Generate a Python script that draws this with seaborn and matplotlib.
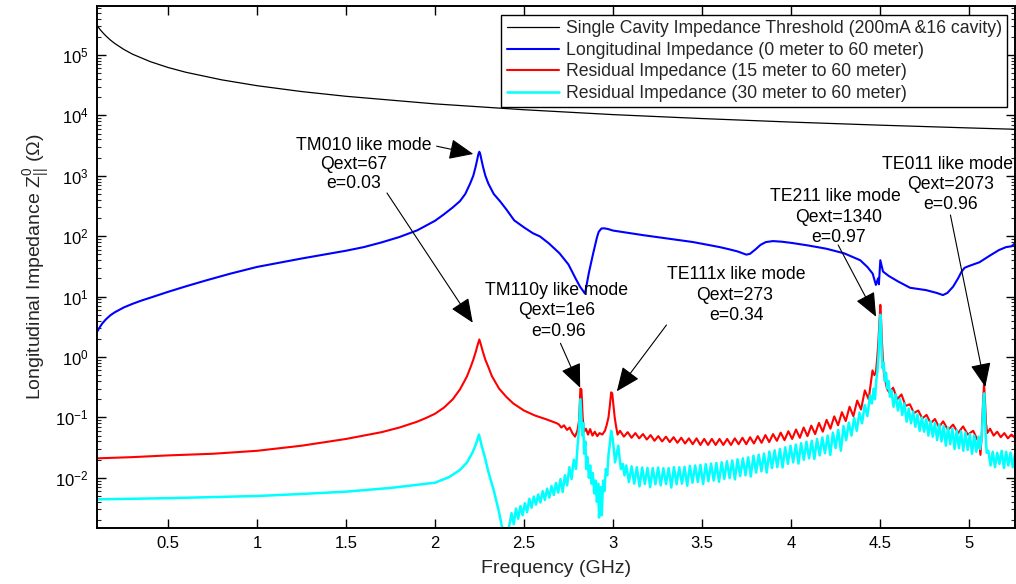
import numpy as np
import matplotlib
matplotlib.use("Agg")
import matplotlib.pyplot as plt
import seaborn as sns

# ---------------- data: frequency in GHz, impedance in Ohm ----------------
# single cavity impedance threshold
thr_freq = [0.1, 0.11, 0.12, 0.135, 0.15, 0.175, 0.2, 0.25, 0.3, 0.4, 0.5, 0.6, 0.8,
            1.0, 1.25, 1.5, 2.0, 2.5, 3.0, 3.5, 4.0, 4.5, 5.0, 5.26]
thr_imp = [310000, 282000, 258000, 230000, 207000, 177000, 155000, 124000, 103000,
           77500, 62000, 51700, 38800, 31000, 24800, 20700, 15500, 12400, 10300,
           8860, 7750, 6890, 6200, 5890]

# longitudinal impedance, 0 m to 60 m
long_freq = [0.1, 0.115, 0.13, 0.15, 0.175, 0.2, 0.25, 0.3, 0.35, 0.4, 0.5, 0.6,
             0.715, 0.85, 1.0, 1.25, 1.5, 1.6, 1.7, 1.8, 1.9, 2.0, 2.05, 2.1,
             2.14, 2.17, 2.197, 2.215, 2.228, 2.238, 2.244, 2.249, 2.254, 2.26,
             2.27, 2.283, 2.30, 2.33, 2.365, 2.40, 2.445, 2.5, 2.55, 2.59, 2.64,
             2.70, 2.75, 2.79, 2.815, 2.843, 2.865, 2.889, 2.91, 2.92, 2.935, 2.95,
             2.97, 3.0, 3.17, 3.45, 3.6, 3.65, 3.7, 3.73, 3.75, 3.77, 3.80, 3.83,
             3.86, 3.9, 3.95, 4.01, 4.1, 4.2, 4.3, 4.39, 4.43, 4.46, 4.478, 4.49,
             4.495, 4.503, 4.518, 4.55, 4.6, 4.67, 4.76, 4.82, 4.855, 4.88, 4.912,
             4.94, 4.96, 4.977, 5.0, 5.06, 5.12, 5.17, 5.21, 5.24, 5.26]
long_imp = [2.6, 3.1, 3.6, 4.2, 4.9, 5.5, 6.6, 7.6, 8.6, 9.6, 12.0, 14.8,
            18.6, 24, 31, 42.7, 57.5, 66, 79, 97, 125, 180, 230, 300,
            380, 500, 740, 1000, 1400, 1900, 2300, 2500, 2300, 1900,
            1400, 1000, 740, 500, 380, 280, 183, 140, 112, 99, 76,
            52, 34, 20, 14.6, 11.2, 25, 52, 95, 118, 134, 135,
            132, 124, 104, 80, 66, 61, 56, 52, 49.5, 51, 60, 72,
            80, 83, 81, 77, 70, 62, 52, 40, 31, 24, 15.6, 20,
            16, 40, 26, 22, 18, 14, 12.8, 11.5, 10.6, 11.5, 14.6,
            20, 26, 30, 32, 37, 48, 59, 66, 68, 76]

# residual impedance, 15 m to 60 m
res15_freq_a = [0.1, 0.3, 0.5, 0.75, 1.0, 1.25, 1.5, 1.6, 1.7, 1.8, 1.9, 1.95, 2.0,
                2.05, 2.1, 2.14, 2.18, 2.2, 2.215, 2.23, 2.24, 2.249, 2.258, 2.268,
                2.283, 2.30, 2.32, 2.36, 2.4, 2.44, 2.5, 2.56, 2.63, 2.68]
res15_imp_a = [0.021, 0.022, 0.0235, 0.025, 0.028, 0.034, 0.044, 0.05, 0.057, 0.068,
               0.085, 0.098, 0.115, 0.145, 0.2, 0.29, 0.48, 0.68, 0.9, 1.25, 1.6,
               1.95, 1.6, 1.25, 0.9, 0.68, 0.48, 0.3, 0.22, 0.17, 0.13, 0.108,
               0.092, 0.081]
res15_freq_b = [2.695, 2.71, 2.725, 2.742, 2.757, 2.772, 2.787, 2.80, 2.81, 2.817,
                2.823, 2.83, 2.838, 2.848, 2.86, 2.872, 2.885, 2.898, 2.912, 2.925,
                2.94, 2.955, 2.965, 2.975, 2.983, 2.99, 2.996, 3.003, 3.01, 3.018,
                3.026]
res15_imp_b = [0.077, 0.068, 0.074, 0.062, 0.068, 0.055, 0.048, 0.06, 0.09, 0.3,
               0.29, 0.1, 0.058, 0.065, 0.052, 0.064, 0.05, 0.058, 0.049, 0.055,
               0.052, 0.06, 0.075, 0.1, 0.16, 0.26, 0.25, 0.16, 0.1, 0.07,
               0.052]
# ripple between 3.04 and 4.46 GHz, crest / trough alternating
res15_ripple = [0.060, 0.048, 0.057, 0.046, 0.055, 0.045, 0.053, 0.043, 0.051, 0.041,
                0.049, 0.040, 0.048, 0.039, 0.047, 0.038, 0.046, 0.037, 0.045, 0.036,
                0.045, 0.035, 0.044, 0.035, 0.044, 0.035, 0.044, 0.035, 0.044, 0.035,
                0.045, 0.036, 0.046, 0.036, 0.047, 0.037, 0.049, 0.038, 0.051, 0.039,
                0.053, 0.041, 0.056, 0.042, 0.059, 0.044, 0.063, 0.046, 0.068, 0.049,
                0.073, 0.053, 0.081, 0.058, 0.091, 0.065, 0.104, 0.074, 0.122, 0.087,
                0.150, 0.105, 0.190, 0.135, 0.280, 0.200, 0.600]
res15_freq_c = [4.47, 4.478, 4.486, 4.493, 4.499, 4.503, 4.507, 4.512, 4.518, 4.524,
                4.53, 4.54, 4.553, 4.575, 4.598, 4.622, 4.645, 4.669, 4.692, 4.716,
                4.739, 4.763, 4.786, 4.81, 4.833, 4.856, 4.884, 4.912, 4.94, 4.968,
                4.995, 5.025, 5.045, 5.058, 5.066, 5.074, 5.08, 5.086, 5.091, 5.097,
                5.104, 5.12, 5.14, 5.16, 5.18, 5.2, 5.22, 5.24, 5.26]
res15_imp_c = [0.5, 0.55, 1.0, 2.0, 4.5, 7.3, 4.5, 1.8, 0.9, 0.5,
               0.42, 0.3, 0.26, 0.31, 0.2, 0.24, 0.155, 0.165, 0.118, 0.13,
               0.096, 0.11, 0.08, 0.094, 0.069, 0.086, 0.062, 0.076, 0.055, 0.071,
               0.052, 0.06, 0.045, 0.038, 0.024, 0.06, 0.17, 0.36, 0.2, 0.08,
               0.055, 0.065, 0.05, 0.058, 0.047, 0.055, 0.045, 0.052, 0.046]

# residual impedance, 30 m to 60 m
res30_freq_a = [0.1, 0.3, 0.5, 0.75, 1.0, 1.25, 1.5, 1.75, 2.0, 2.08, 2.14, 2.18,
                2.21, 2.23, 2.247, 2.262, 2.28, 2.30, 2.33, 2.36, 2.375, 2.39, 2.41,
                2.422]
res30_imp_a = [0.0044, 0.0045, 0.0046, 0.0048, 0.0050, 0.0054, 0.0059, 0.0068,
               0.0083, 0.0103, 0.0135, 0.018, 0.026, 0.036, 0.052, 0.034, 0.022,
               0.0125, 0.0062, 0.0027, 0.0016, 0.0012, 0.0013, 0.0019]
# 2.43 - 2.79 GHz, alternating high / low
res30_band_b = [0.0026, 0.0017, 0.0031, 0.0021, 0.0034, 0.0024, 0.0038, 0.0027,
                0.0045, 0.0032, 0.0049, 0.0036, 0.0053, 0.0039, 0.0060, 0.0043,
                0.0066, 0.0047, 0.0073, 0.0052, 0.0082, 0.0057, 0.0095, 0.0058,
                0.0110, 0.0075, 0.0150, 0.0095, 0.0200, 0.0140]
res30_freq_c = [2.80, 2.81, 2.817, 2.822, 2.828, 2.833, 2.838, 2.845, 2.85, 2.857,
                2.865, 2.872, 2.88, 2.887, 2.895, 2.902, 2.91, 2.917, 2.922, 2.93,
                2.937, 2.945, 2.952, 2.96, 2.968, 2.975, 2.982, 2.99, 2.998, 3.005,
                3.012, 3.02, 3.03, 3.037, 3.045, 3.055, 3.065]
res30_imp_c = [0.03, 0.07, 0.2, 0.11, 0.05, 0.08, 0.025, 0.04, 0.014, 0.022,
               0.01, 0.016, 0.008, 0.012, 0.0055, 0.009, 0.004, 0.008, 0.0022, 0.007,
               0.0024, 0.009, 0.006, 0.014, 0.011, 0.024, 0.035, 0.06, 0.045, 0.03,
               0.018, 0.024, 0.034, 0.022, 0.014, 0.017, 0.011]
# 3.075 - 4.445 GHz, alternating high / low
res30_band_d = [0.0160, 0.0085, 0.0155, 0.0080, 0.0150, 0.0072, 0.0148, 0.0079,
                0.0146, 0.0070, 0.0145, 0.0078, 0.0148, 0.0075, 0.0144, 0.0079,
                0.0145, 0.0069, 0.0150, 0.0078, 0.0149, 0.0080, 0.0152, 0.0074,
                0.0158, 0.0083, 0.0160, 0.0085, 0.0164, 0.0079, 0.0168, 0.0088,
                0.0172, 0.0090, 0.0176, 0.0086, 0.0181, 0.0096, 0.0188, 0.0099,
                0.0194, 0.0094, 0.0203, 0.0107, 0.0210, 0.0110, 0.0218, 0.0105,
                0.0232, 0.0122, 0.0242, 0.0128, 0.0252, 0.0122, 0.0272, 0.0145,
                0.0285, 0.0150, 0.0300, 0.0148, 0.0320, 0.0170, 0.0340, 0.0180,
                0.0355, 0.0172, 0.0375, 0.0198, 0.0395, 0.0210, 0.0410, 0.0205,
                0.0440, 0.0235, 0.0465, 0.0255, 0.0500, 0.0240, 0.0560, 0.0310,
                0.0620, 0.0280, 0.0720, 0.0420, 0.0820, 0.0500, 0.0980, 0.0600,
                0.1200, 0.0800, 0.1600, 0.1050, 0.2300]
res30_freq_e = [4.455, 4.465, 4.473, 4.48, 4.487, 4.493, 4.498, 4.503, 4.507, 4.511,
                4.516, 4.522, 4.528, 4.535, 4.542, 4.55, 4.557]
res30_imp_e = [0.17, 0.3, 0.2, 0.4, 0.6, 1.1, 2.5, 5.0, 2.8, 1.2,
               0.65, 0.8, 0.4, 0.55, 0.3, 0.4, 0.22]
# 4.565 - 5.055 GHz, alternating high / low
res30_band_f = [0.28, 0.15, 0.24, 0.13, 0.20, 0.11, 0.17, 0.085, 0.14, 0.080,
                0.125, 0.070, 0.112, 0.060, 0.100, 0.058, 0.093, 0.050, 0.087, 0.048,
                0.081, 0.042, 0.076, 0.040, 0.072, 0.034, 0.068, 0.036, 0.065, 0.030,
                0.061, 0.031, 0.059, 0.028, 0.056, 0.029, 0.053, 0.025, 0.050, 0.027,
                0.048]
res30_freq_g = [5.064, 5.072, 5.078, 5.083, 5.087, 5.091, 5.096, 5.101]
res30_imp_g = [0.03, 0.045, 0.09, 0.2, 0.25, 0.12, 0.045, 0.026]
# 5.11 - 5.26 GHz, alternating high / low
res30_band_h = [0.028, 0.016, 0.027, 0.015, 0.026, 0.017, 0.028, 0.0145, 0.027,
                0.016, 0.026, 0.015, 0.025]

legend_labels = ["Single Cavity Impedance Threshold (200mA &16 cavity)",
                 "Longitudinal Impedance (0 meter to 60 meter)",
                 "Residual Impedance (15 meter to 60 meter)",
                 "Residual Impedance (30 meter to 60 meter)"]

x_ticks = [0.5, 1, 1.5, 2, 2.5, 3, 3.5, 4, 4.5, 5]
x_tick_labels = ["0.5", "1", "1.5", "2", "2.5", "3", "3.5", "4", "4.5", "5"]
y_exponents = [-2, -1, 0, 1, 2, 3, 4, 5]

# ---------------- assemble series ----------------
res15_freq = np.concatenate([res15_freq_a, res15_freq_b,
                             np.linspace(3.04, 4.459, len(res15_ripple)),
                             res15_freq_c])
res15_imp = np.concatenate([res15_imp_a, res15_imp_b, res15_ripple, res15_imp_c])

res30_freq = np.concatenate([res30_freq_a,
                             np.linspace(2.43, 2.7925, len(res30_band_b)),
                             res30_freq_c,
                             np.linspace(3.075, 4.445, len(res30_band_d)),
                             res30_freq_e,
                             np.linspace(4.565, 5.055, len(res30_band_f)),
                             res30_freq_g,
                             np.linspace(5.11, 5.26, len(res30_band_h))])
res30_imp = np.concatenate([res30_imp_a, res30_band_b, res30_imp_c, res30_band_d,
                            res30_imp_e, res30_band_f, res30_imp_g, res30_band_h])

# ---------------- style ----------------
sns.set_theme(style="ticks", rc={
    "xtick.direction": "in", "ytick.direction": "in",
    "xtick.top": True, "ytick.right": True,
    "axes.edgecolor": "black", "axes.linewidth": 1.4,
})
plt.rcParams["font.family"] = ["Liberation Sans", "DejaVu Sans"]
plt.rcParams["mathtext.fontset"] = "custom"
plt.rcParams["mathtext.rm"] = "Liberation Sans"
plt.rcParams["mathtext.it"] = "Liberation Sans:italic"
plt.rcParams["mathtext.default"] = "regular"

fig = plt.figure(figsize=(10.16, 5.84), dpi=100)
ax = fig.add_axes([97 / 1016, 56 / 584, 918 / 1016, 522 / 584])
ax.set_yscale("log")

series = [
    (thr_freq, thr_imp, "black", 0.9),
    (long_freq, long_imp, "#0000ff", 1.5),
    (res15_freq, res15_imp, "#ff0000", 1.5),
    (res30_freq, res30_imp, "#00ffff", 1.8),
]
for (fx, zy, col, lw), lab in zip(series, legend_labels):
    sns.lineplot(x=np.asarray(fx, float), y=np.asarray(zy, float), ax=ax,
                 color=col, linewidth=lw, label=lab, estimator=None, sort=False)

ax.set_xlim(0.1, 5.26)
ax.set_ylim(1.476e-3, 6.47e5)

ax.set_xticks(x_ticks)
ax.set_xticklabels(x_tick_labels)
ax.set_yticks([10.0 ** e for e in y_exponents])
ax.set_yticklabels([r"$10^{%d}$" % e for e in y_exponents])
ax.yaxis.set_minor_locator(matplotlib.ticker.LogLocator(base=10, subs=np.arange(2, 10), numticks=20))
ax.yaxis.set_minor_formatter(matplotlib.ticker.NullFormatter())
ax.tick_params(which="major", length=6.5, width=1.0, labelsize=12, colors="black", pad=6)
ax.tick_params(which="minor", length=3.2, width=0.8)
ax.tick_params(axis="x", which="minor", bottom=False, top=False)

ax.set_xlabel("Frequency (GHz)", fontsize=14, labelpad=6)
ax.set_ylabel(r"Longitudinal Impedance Z$_{||}^{0}$ ($\Omega$)", fontsize=14, labelpad=2)

leg = ax.legend(loc="upper right", bbox_to_anchor=(0.9913, 0.9828), borderaxespad=0,
                fontsize=12.7, frameon=True, fancybox=False, framealpha=1,
                edgecolor="black", handlelength=3.0, handletextpad=0.35,
                labelspacing=0.26, borderpad=0.3)
leg.get_frame().set_linewidth(1.0)

# ---------------- mode annotations ----------------
text_kw = dict(fontsize=12.7, ha="center", va="center", color="black")
arrow_kw = dict(arrowstyle="-|>,head_length=0.75,head_width=0.32", color="black",
                lw=0.8, mutation_scale=20, shrinkA=0, shrinkB=0)

ax.text(1.598, 10 ** 3.50, "TM010 like mode", **text_kw)
ax.text(1.545, 10 ** 3.19, "Qext=67", **text_kw)
ax.text(1.545, 10 ** 2.870, "e=0.03", **text_kw)
ax.annotate("", xy=(2.215, 10 ** 3.361), xytext=(2.009, 10 ** 3.49), arrowprops=arrow_kw)
ax.annotate("", xy=(2.212, 10 ** 0.568), xytext=(1.730, 10 ** 2.715), arrowprops=arrow_kw)

ax.text(2.685, 10 ** 1.109, "TM110y like mode", **text_kw)
ax.text(2.685, 10 ** 0.762, "Qext=1e6", **text_kw)
ax.text(2.697, 10 ** 0.414, "e=0.96", **text_kw)
ax.annotate("", xy=(2.816, 10 ** -0.51), xytext=(2.705, 10 ** 0.227), arrowprops=arrow_kw)

ax.text(3.695, 10 ** 1.358, "TE111x like mode", **text_kw)
ax.text(3.685, 10 ** 1.026, "Qext=273", **text_kw)
ax.text(3.695, 10 ** 0.695, "e=0.34", **text_kw)
ax.annotate("", xy=(3.022, 10 ** -0.568), xytext=(3.301, 10 ** 0.530), arrowprops=arrow_kw)

ax.text(4.252, 10 ** 2.649, "TE211 like mode", **text_kw)
ax.text(4.268, 10 ** 2.313, "Qext=1340", **text_kw)
ax.text(4.268, 10 ** 1.982, "e=0.97", **text_kw)
ax.annotate("", xy=(4.479, 10 ** 0.667), xytext=(4.266, 10 ** 1.854), arrowprops=arrow_kw)

ax.text(4.879, 10 ** 3.195, "TE011 like mode", **text_kw)
ax.text(4.897, 10 ** 2.864, "Qext=2073", **text_kw)
ax.text(4.897, 10 ** 2.517, "e=0.96", **text_kw)
ax.annotate("", xy=(5.093, 10 ** -0.495), xytext=(4.897, 10 ** 2.351), arrowprops=arrow_kw)

fig.savefig("out.png", dpi=100)
